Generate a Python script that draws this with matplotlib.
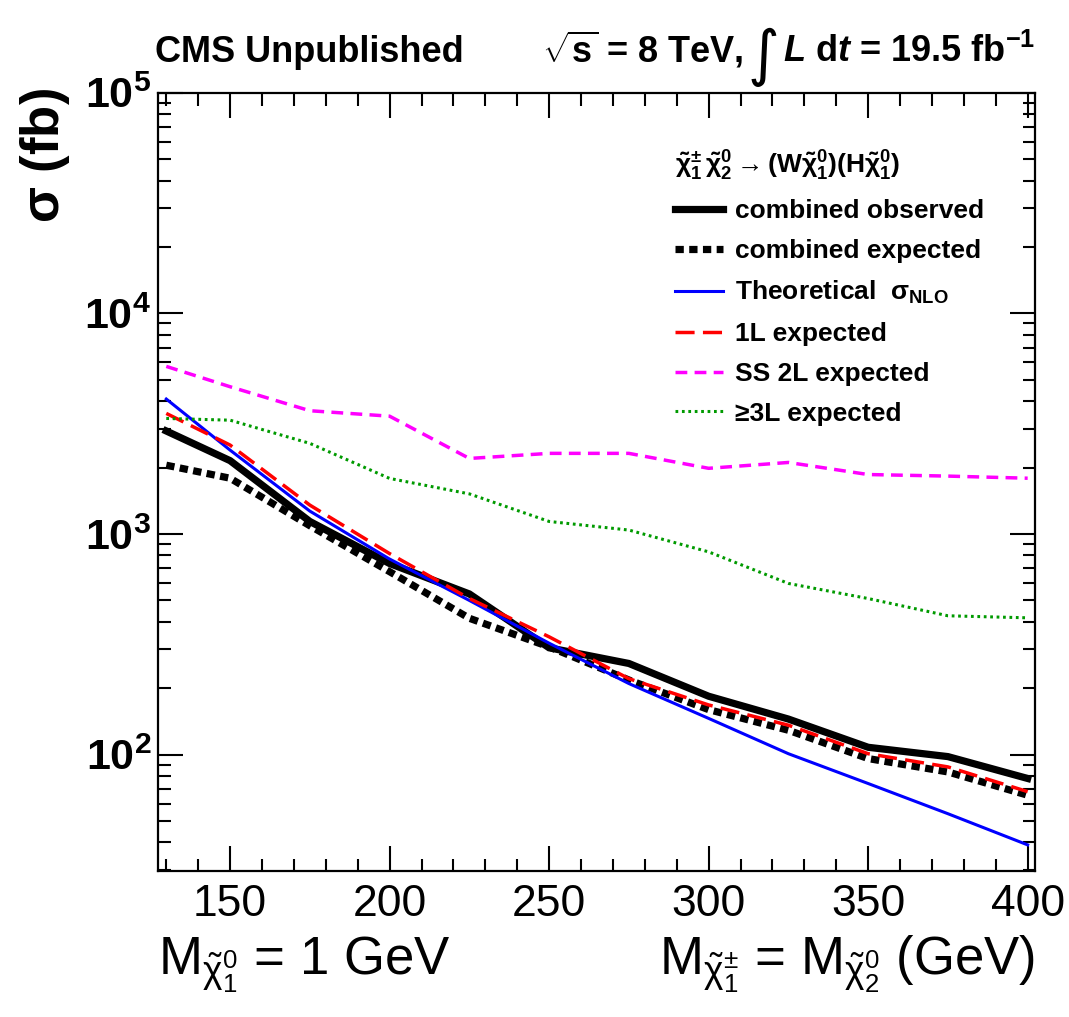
import matplotlib
matplotlib.use("Agg")
import matplotlib.pyplot as plt
from matplotlib.ticker import FixedLocator, MultipleLocator, LogLocator, NullFormatter, FixedFormatter

plt.rcParams['font.family'] = ['Liberation Sans', 'DejaVu Sans']
plt.rcParams['mathtext.fontset'] = 'custom'
plt.rcParams['mathtext.rm'] = 'Liberation Sans'
plt.rcParams['mathtext.it'] = 'Liberation Sans:italic:bold'
plt.rcParams['mathtext.bf'] = 'Liberation Sans:bold'
plt.rcParams['mathtext.default'] = 'regular'

# ---- data ----
mass = [130, 150, 175, 200, 225, 250, 275, 300, 325, 350, 375, 400]
combined_observed = [2930, 2150, 1140, 735, 535, 305, 259, 184, 145, 108, 98, 78]
combined_expected = [2050, 1790, 1090, 675, 415, 308, 218, 160, 129, 96, 83.5, 65.5]
theory_nlo = [4090, 2400, 1270, 770, 500, 320, 210, 146, 101, 74, 54, 39]
exp_1l = [3520, 2530, 1352, 815, 510, 342, 221, 168, 136, 101, 88, 68]
exp_ss2l = [5750, 4650, 3620, 3420, 2200, 2320, 2320, 1985, 2110, 1860, 1830, 1790]
exp_3l = [3340, 3280, 2575, 1786, 1520, 1140, 1042, 830, 597, 510, 426, 417]

labels = ['combined observed', 'combined expected', r'Theoretical  $\sigma_{NLO}$',
          '1L expected', 'SS 2L expected', '\u22653L expected']
legend_header = (r'$\tilde{\chi}^{\pm}_{1}\,\tilde{\chi}^{0}_{2}\rightarrow$'
                 r'(W$\tilde{\chi}^{0}_{1}$)(H$\tilde{\chi}^{0}_{1}$)')
ytick_vals = [1e2, 1e3, 1e4, 1e5]
ytick_labels = [r'$10^{2}$', r'$10^{3}$', r'$10^{4}$', r'$10^{5}$']
xtick_vals = [150, 200, 250, 300, 350, 400]

W, H = 1069, 1017
fig = plt.figure(figsize=(W / 100, H / 100), dpi=100)
ax = fig.add_axes([158.3 / W, 1 - 871 / H, (1035 - 158.3) / W, (871 - 92.7) / H])

ax.plot(mass, combined_observed, color='black', lw=5.2, solid_joinstyle='miter', label=labels[0])
ax.plot(mass, combined_expected, color='black', lw=5.2, linestyle=(0, (1.15, 0.75)),
        dash_capstyle='butt', label=labels[1])
ax.plot(mass, theory_nlo, color='#0000ff', lw=2.2, label=labels[2])
ax.plot(mass, exp_1l, color='#ff0000', lw=2.5, linestyle=(0, (5.5, 2.4)), label=labels[3])
ax.plot(mass, exp_ss2l, color='#ff00ff', lw=2.5, linestyle=(0, (3.4, 2.1)), label=labels[4])
ax.plot(mass, exp_3l, color='#009a00', lw=2.2, linestyle=(0, (0.9, 1.2)), label=labels[5])

ax.set_yscale('log')
ax.set_xlim(127.5, 402.3)
ax.set_ylim(29.7, 1e5)

ax.xaxis.set_major_locator(FixedLocator(xtick_vals))
ax.xaxis.set_minor_locator(MultipleLocator(10))
ax.set_xticklabels([str(v) for v in xtick_vals])
ax.yaxis.set_major_locator(FixedLocator(ytick_vals))
ax.yaxis.set_major_formatter(FixedFormatter(ytick_labels))
ax.yaxis.set_minor_locator(LogLocator(base=10, subs=range(2, 10), numticks=20))
ax.yaxis.set_minor_formatter(NullFormatter())

ax.tick_params(which='both', direction='in', top=True, right=True, width=1.5)
ax.tick_params(which='major', length=18)
ax.tick_params(which='minor', length=9)
ax.tick_params(axis='x', which='major', labelsize=32, pad=9)
ax.tick_params(axis='y', which='major', labelsize=31, pad=5)
for t in ax.get_yticklabels():
    t.set_fontweight('bold')
for s in ax.spines.values():
    s.set_linewidth(1.6)

leg = ax.legend(loc='upper left', bbox_to_anchor=((670 - 158.3) / (1035 - 158.3), 1 - (144 - 92.7) / (871 - 92.7)),
                frameon=False, prop={'weight': 'bold', 'size': 19}, title=legend_header,
                title_fontproperties={'weight': 'bold', 'size': 19},
                handlelength=1.8, handletextpad=0.45, labelspacing=0.6, borderaxespad=0, borderpad=0.2)
leg._legend_box.align = 'left'

# header texts
base_y = 1 - 62 / H
fig.text(155 / W, base_y, 'CMS Unpublished', fontsize=26, fontweight='bold', ha='left', va='baseline')
renderer = fig.canvas.get_renderer()
t3 = fig.text(1035 / W, base_y, r'$\mathit{L}$ d$\mathit{t}$ = 19.5 fb$^{-1}$',
              fontsize=26, fontweight='bold', ha='right', va='baseline')
x3 = t3.get_window_extent(renderer).x0
t2 = fig.text((x3 - 3) / W, 1 - 74 / H, '\u222b', fontsize=44, family='DejaVu Sans',
              ha='right', va='baseline')
x2 = t2.get_window_extent(renderer).x0
fig.text((x2 - 4) / W, base_y, r'$\sqrt{s}$ = 8 TeV,', fontsize=26, fontweight='bold',
         ha='right', va='baseline')

# axis titles
fig.text(45 / W, 1 - 88 / H, r'$\sigma$ (fb)', fontsize=38, fontweight='bold', rotation=90,
         ha='center', va='top')
fig.text(158 / W, 1 - 975 / H, r'M$_{\tilde{\chi}^{0}_{1}}$ = 1 GeV', fontsize=38,
         ha='left', va='baseline')
fig.text(1035 / W, 1 - 975 / H, r'M$_{\tilde{\chi}^{\pm}_{1}}$ = M$_{\tilde{\chi}^{0}_{2}}$ (GeV)',
         fontsize=38, ha='right', va='baseline')

fig.savefig('out.png', dpi=100)
